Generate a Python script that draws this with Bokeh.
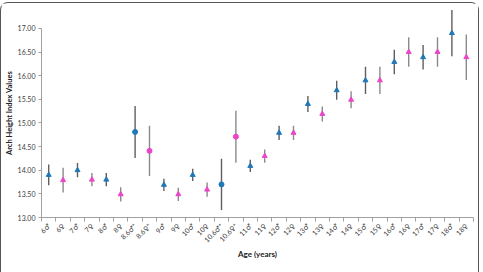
import numpy as np
from bokeh.plotting import figure
from bokeh.models import FixedTicker, PrintfTickFormatter, ColumnDataSource
from bokeh.embed import file_html
from bokeh.resources import INLINE

# Mean arch height index per age/sex group, with error half-widths
categories = ["6♂", "6♀", "7♂", "7♀", "8♂", "8♀", "8.6♂*", "8.6♀*", "9♂", "9♀",
              "10♂", "10♀", "10.6♂*", "10.6♀*", "11♂", "11♀", "12♂", "12♀", "13♂", "13♀",
              "14♂", "14♀", "15♂", "15♀", "16♂", "16♀", "17♂", "17♀", "18♂", "18♀"]
means = [13.90, 13.79, 14.00, 13.80, 13.80, 13.49, 14.81, 14.41, 13.69, 13.49,
         13.90, 13.59, 13.70, 14.71, 14.09, 14.30, 14.79, 14.79, 15.40, 15.19,
         15.69, 15.49, 15.90, 15.90, 16.29, 16.50, 16.39, 16.50, 16.90, 16.39]
errors = [0.22, 0.26, 0.15, 0.14, 0.14, 0.15, 0.55, 0.53, 0.13, 0.14,
          0.13, 0.15, 0.54, 0.55, 0.13, 0.14, 0.15, 0.15, 0.17, 0.16,
          0.20, 0.18, 0.29, 0.29, 0.26, 0.31, 0.26, 0.31, 0.49, 0.48]
y_ticks = [13.0, 13.5, 14.0, 14.5, 15.0, 15.5, 16.0, 16.5, 17.0]

BLUE = "#1f78b8"
PINK = "#ec45c9"
FONT = "Lato, 'DejaVu Sans'"

n = len(categories)
xs = np.arange(n) + 0.5
means_a = np.array(means)
err_a = np.array(errors)
colors = [BLUE if "♂" in c else PINK for c in categories]
markers = ["circle" if "*" in c else "triangle" for c in categories]
bar_colors = ["#5f5f5f" if "♂" in c else "#8a8a8a" for c in categories]

src = ColumnDataSource(dict(x=xs, y=means_a, lo=means_a - err_a, hi=means_a + err_a,
                            color=colors, marker=markers, bar=bar_colors))

p = figure(width=479, height=272, output_backend="svg", toolbar_location=None,
           x_range=(0, n), y_range=(13.0, 17.42),
           min_border_left=36, min_border_right=7, min_border_top=5, min_border_bottom=58)
p.outline_line_color = None
p.grid.visible = False
p.background_fill_color = "white"
p.border_fill_color = "white"
# rounded frame around the whole chart
p.styles = {"border": "1.5px solid #555555", "border-bottom": "none",
            "border-radius": "8px 8px 0 0", "margin-top": "2px"}

p.segment(x0="x", y0="lo", x1="x", y1="hi", source=src, line_color="bar", line_width=1.4)
p.scatter(x="x", y="y", source=src, marker="marker", size=5,
          fill_color="color", line_color="color")

# x axis: labels at group centres, ticks on group boundaries
xa = p.xaxis[0]
xa.ticker = FixedTicker(ticks=list(xs), minor_ticks=list(np.arange(n + 1)))
xa.major_label_overrides = {float(x): c for x, c in zip(xs, categories)}
xa.major_tick_line_color = None
xa.minor_tick_line_color = "#a0a0a0"
xa.minor_tick_in = 0
xa.minor_tick_out = 4
xa.axis_line_color = "#a0a0a0"
xa.major_label_orientation = np.pi / 4
xa.major_label_text_font = FONT
xa.major_label_text_font_size = "7px"
xa.major_label_text_color = "#404040"
xa.major_label_standoff = 1
xa.axis_label = "Age (years)"
xa.axis_label_text_font = FONT
xa.axis_label_text_font_size = "8px"
xa.axis_label_text_font_style = "bold"
xa.axis_label_text_color = "#222222"
xa.axis_label_standoff = 0

ya = p.yaxis[0]
ya.ticker = FixedTicker(ticks=y_ticks, minor_ticks=[])
ya.formatter = PrintfTickFormatter(format="%.2f")
ya.bounds = (13.0, 17.0)
ya.axis_line_color = "#a0a0a0"
ya.major_tick_line_color = "#a0a0a0"
ya.major_tick_in = 0
ya.major_tick_out = 3
ya.major_label_text_font = FONT
ya.major_label_text_font_size = "7px"
ya.major_label_text_color = "#404040"
ya.major_label_standoff = 3
ya.axis_label = "Arch Height Index Values"
ya.axis_label_text_font = FONT
ya.axis_label_text_font_size = "7.5px"
ya.axis_label_text_font_style = "bold"
ya.axis_label_text_color = "#222222"
ya.axis_label_standoff = 1

open("out.html", "w").write(file_html(p, INLINE))
